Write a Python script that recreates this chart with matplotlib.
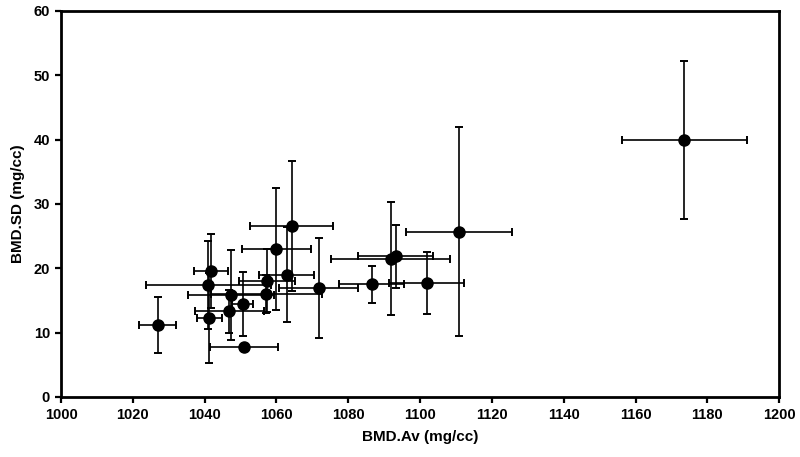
import matplotlib
matplotlib.use("Agg")
import matplotlib.pyplot as plt

# Datos: media y desviacion estandar de BMD
bmd_av = [1026.9, 1041.8, 1041.0, 1041.3, 1047.4, 1046.9, 1050.6, 1050.9,
          1057.4, 1057.2, 1060.0, 1064.2, 1062.8, 1071.8, 1086.5, 1091.8,
          1093.2, 1101.8, 1110.8, 1173.6]
bmd_sd = [11.2, 19.6, 17.4, 12.3, 15.8, 13.3, 14.5, 7.8,
          18.1, 16.0, 23.0, 26.6, 19.0, 16.9, 17.5, 21.5,
          21.9, 17.7, 25.7, 39.9]
err_av = [5.2, 4.8, 17.4, 3.4, 12.0, 9.7, 3.0, 9.5,
          7.8, 15.5, 9.6, 11.6, 7.6, 11.0, 9.0, 16.6,
          10.4, 10.4, 14.8, 17.5]
err_sd = [4.3, 5.7, 6.8, 7.0, 7.0, 3.4, 5.0, 0.5,
          4.9, 3.0, 9.5, 10.1, 7.4, 7.8, 2.9, 8.8,
          4.9, 4.8, 16.2, 12.3]

x_ticks = list(range(1000, 1201, 20))
y_ticks = list(range(0, 61, 10))

plt.rcParams["font.family"] = ["Liberation Sans", "DejaVu Sans"]
plt.rcParams["font.weight"] = "bold"

fig = plt.figure(figsize=(8, 4.57), dpi=100)
ax = fig.add_axes([0.07625, 0.1313, 0.8978, 0.8447])

ax.errorbar(bmd_av, bmd_sd, xerr=err_av, yerr=err_sd, fmt="o",
            color="black", markersize=8, ecolor="black",
            elinewidth=1.2, capsize=3, capthick=1.4)

ax.set_xlim(1000, 1200)
ax.set_ylim(0, 60)
ax.set_xticks(x_ticks)
ax.set_yticks(y_ticks)
ax.tick_params(direction="out", length=4, width=1.6, labelsize=10.5, pad=4)
for lab in ax.get_xticklabels() + ax.get_yticklabels():
    lab.set_fontweight("bold")
for s in ax.spines.values():
    s.set_linewidth(2)

ax.set_xlabel("BMD.Av (mg/cc)", fontsize=11, fontweight="bold", labelpad=6)
ax.set_ylabel("BMD.SD (mg/cc)", fontsize=11, fontweight="bold", labelpad=6)

plt.savefig("out.png", dpi=100)
